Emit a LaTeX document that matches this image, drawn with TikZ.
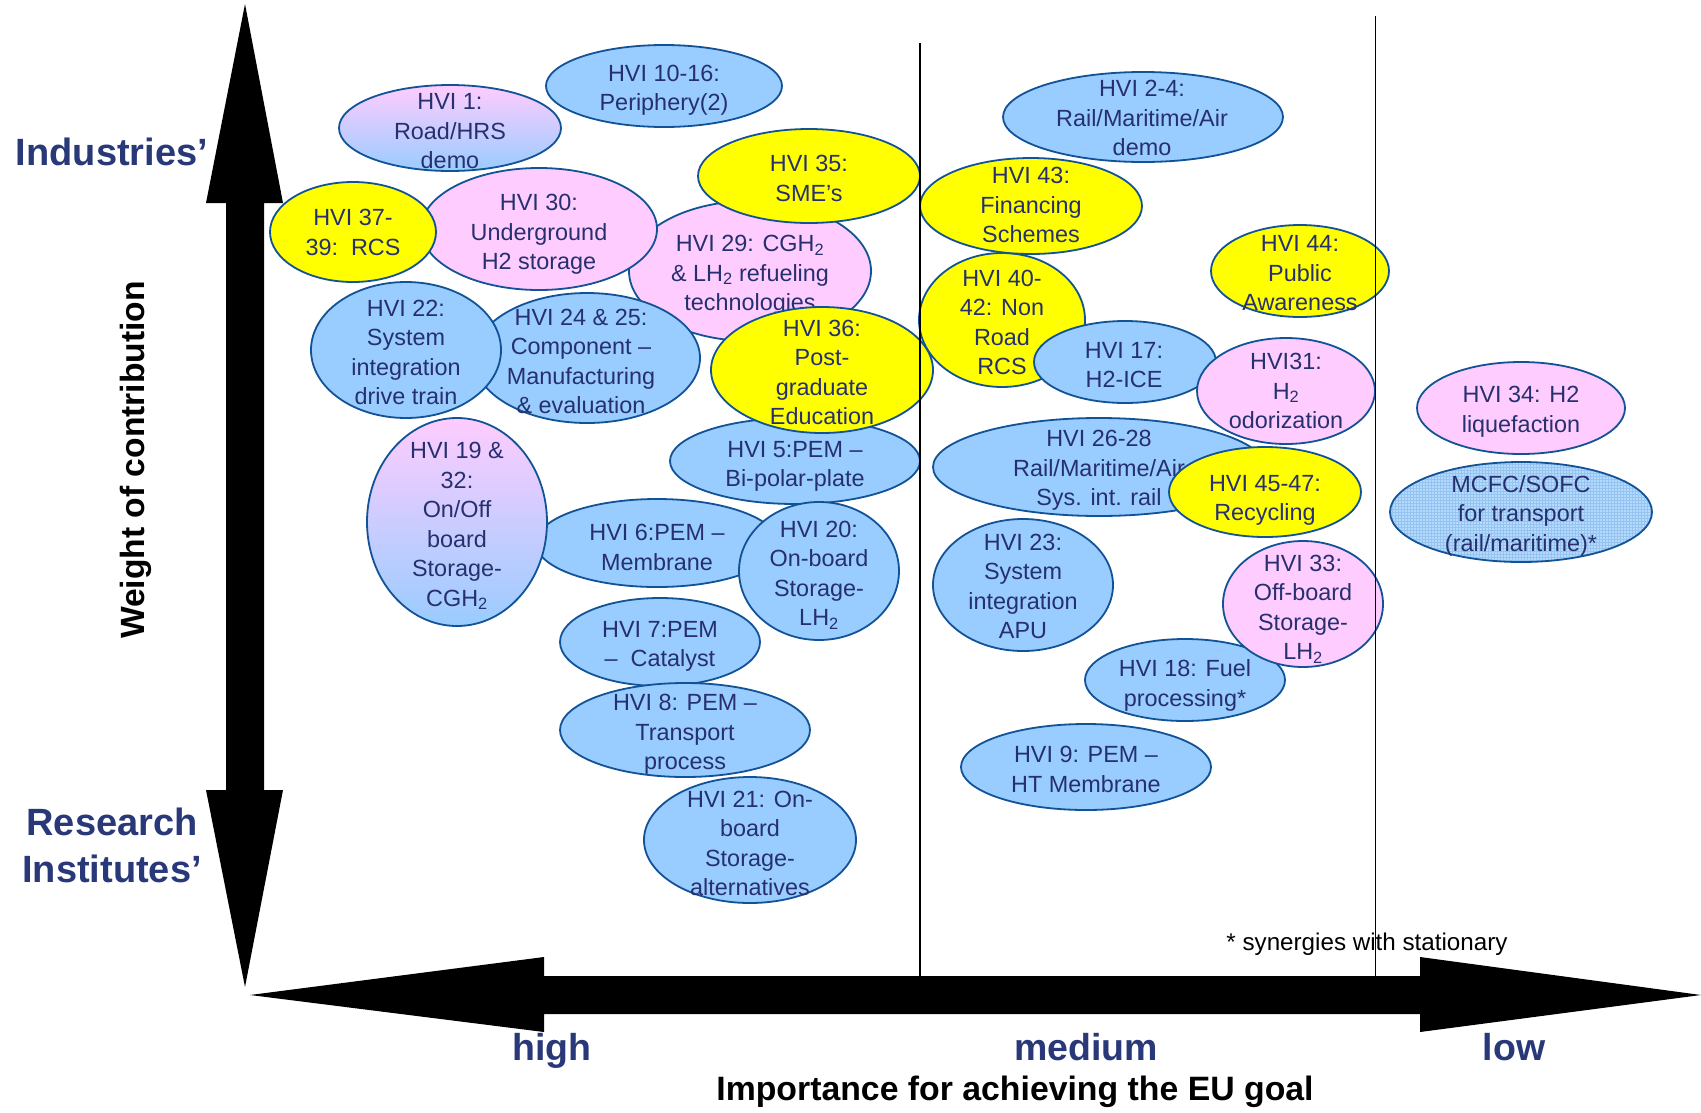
\documentclass[tikz,border=0pt]{standalone}
\usepackage{fontspec}
\setmainfont{Liberation Sans}
\usetikzlibrary{shapes.geometric}
\definecolor{blueF}{RGB}{153,204,255}
\definecolor{pinkF}{RGB}{255,204,255}
\definecolor{yellowF}{RGB}{255,255,0}
\definecolor{outl}{RGB}{18,82,150}
\definecolor{txtc}{RGB}{38,48,110}
\definecolor{navy}{RGB}{41,56,120}
\definecolor{gridF}{RGB}{182,218,252}
\definecolor{gridL}{RGB}{150,196,242}
\tikzset{
  ell/.style={ellipse, draw=outl, line width=1.8pt, inner sep=0pt},
  eB/.style={ell, fill=blueF},
  eP/.style={ell, fill=pinkF},
  eY/.style={ell, fill=yellowF},
  eG/.style={ell, top color=pinkF, bottom color=blueF},
  eM/.style={ell, fill=gridF, path picture={\draw[gridL, line width=0.45pt, step=3pt]
      (path picture bounding box.south west) grid (path picture bounding box.north east);}},
  hvitext/.style={align=center, text=txtc, inner sep=0pt, yshift=-2.5pt,
      font=\fontsize{23.4}{29.5}\selectfont,
      execute at begin node=\strut, execute at end node=\strut},
  axlab/.style={text=navy, inner sep=0pt, anchor=base, font=\bfseries\fontsize{38}{44}\selectfont},
  botlab/.style={text=navy, inner sep=0pt, anchor=base, font=\bfseries\fontsize{37.5}{44}\selectfont},
  divline/.style={black, line width=1.5pt}
}
\newcommand{\hvi}[8]{%
  \node[#2, minimum width=2*#5, minimum height=2*#6] (#1) at (#3,#4) {};
  \node[hvitext] (#1t) at (#7) {#8};
}
\begin{document}
\begin{tikzpicture}[x=1pt,y=-1pt]
\useasboundingbox[fill=white] (0,0) rectangle (1701,1112);
% arrows
\fill[black] (245,4) -- (283,203) -- (264,203) -- (264,790) -- (283,790) -- (245,987)
   -- (206,790) -- (226,790) -- (226,203) -- (206,203) -- cycle;
\fill[black] (250,995) -- (544,957) -- (544,976) -- (1420,976) -- (1420,957) -- (1701,995)
   -- (1420,1032) -- (1420,1014) -- (544,1014) -- (544,1032) -- cycle;
% ellipses
\hvi{e10}{eB}{664}{86}{118}{41}{664,90}{HVI 10-16:\\Periphery(2)}
\hvi{e1}{eG}{450}{128}{111}{43}{450,133}{HVI 1:\\Road/HRS\\demo}
\hvi{e29}{eP}{750}{271}{121}{70}{750,275}{HVI 29: CGH\textsubscript{2}\\\& LH\textsubscript{2} refueling\\technologies}
\hvi{e30}{eP}{539}{229}{118}{61}{539,234}{HVI 30:\\Underground\\H2 storage}
\hvi{e37}{eY}{353}{232}{83}{50}{353,234}{HVI 37-\\39:~~RCS}
\hvi{e35}{eY}{809}{176}{111}{47}{809,180}{HVI 35:\\SME’s}
\hvi{e24}{eB}{587}{358}{113}{65}{581,363}{HVI 24 \& 25:\\Component –\\Manufacturing\\\& evaluation}
\hvi{e22}{eB}{406}{350}{95}{68}{406,354}{HVI 22:\\System\\integration\\drive train}
\hvi{e5}{eB}{795}{461}{125}{43}{795,466}{HVI 5:PEM –\\Bi-polar-plate}
\hvi{e40}{eY}{1002}{320}{83}{67}{1002,324}{HVI 40-\\42: Non\\Road\\RCS}
\hvi{e36}{eY}{822}{370}{111}{63}{822,374}{HVI 36:\\Post-\\graduate\\Education}
\hvi{e6}{eB}{657}{543}{121}{44}{657,549}{HVI 6:PEM –\\Membrane}
\hvi{e19}{eG}{457}{522}{90}{104}{457,526}{HVI 19 \&\\32:\\On/Off\\board\\Storage-\\CGH\textsubscript{2}}
\hvi{e20}{eB}{819}{571}{80}{69}{819,575}{HVI 20:\\On-board\\Storage-\\LH\textsubscript{2}}
\hvi{e7}{eB}{660}{642}{100}{44}{660,646}{HVI 7:PEM\\–~~Catalyst}
\hvi{e8}{eB}{685}{730}{125}{47}{685,734}{HVI 8: PEM –\\Transport\\process}
\hvi{e21}{eB}{750}{840}{106}{63}{750,845}{HVI 21: On-\\board\\Storage-\\alternatives}
\hvi{e2}{eB}{1143}{117}{140}{45}{1142,120}{HVI 2-4:\\Rail/Maritime/Air\\demo}
\hvi{e43}{eY}{1031}{206}{111}{48}{1031,207}{HVI 43:\\Financing\\Schemes}
\hvi{e17}{eB}{1125}{362}{91}{41}{1124,367}{HVI 17:\\H2-ICE}
\hvi{e31}{eP}{1286}{391}{89}{53}{1286,393}{HVI31:\\H\textsubscript{2}\\odorization}
\hvi{e44}{eY}{1300}{271}{89}{46}{1300,275}{HVI 44:\\Public\\Awareness}
\hvi{e26}{eB}{1099}{467}{166}{49}{1099,470}{HVI 26-28\\Rail/Maritime/Air\\Sys. int. rail}
\hvi{e45}{eY}{1265}{492}{96}{45}{1265,500}{HVI 45-47:\\Recycling}
\hvi{e23}{eB}{1023}{585}{90}{66}{1023,588}{HVI 23:\\System\\integration\\APU}
\hvi{e18}{eB}{1185}{680}{100}{41}{1185,685}{HVI 18: Fuel\\processing*}
\hvi{e33}{eP}{1303}{604}{80}{63}{1303,609}{HVI 33:\\Off-board\\Storage-\\LH\textsubscript{2}}
\hvi{e9}{eB}{1086}{767}{125}{43}{1086,771}{HVI 9: PEM –\\HT Membrane}
\hvi{e34}{eP}{1521}{408}{104}{46}{1521,411}{HVI 34: H2\\liquefaction}
\hvi{e46}{eM}{1521}{512}{131}{50}{1521,515}{MCFC/SOFC\\for transport\\(rail/maritime)*}
% dividing lines
\coordinate (l1t) at (920,43);
\coordinate (l1b) at (920,976);
\coordinate (l2t) at (1375.5,16);
\coordinate (l2b) at (1375.5,1014);
\draw[divline] (l1t) -- (l1b);
\draw[divline] (l2t) -- (l2b);
% labels
\node[axlab] (ind) at (112,165) {Industries’};
\node[axlab] (res) at (112,835) {Research};
\node[axlab] (ins) at (112,882) {Institutes’};
\node[rotate=90, inner sep=0pt, font=\bfseries\fontsize{33.6}{38}\selectfont] (wlab) at (136,460) {Weight of contribution};
\node[botlab] (high) at (552,1060) {high};
\node[botlab] (med) at (1086,1060) {medium};
\node[botlab] (low) at (1514,1060) {low};
\node[inner sep=0pt, anchor=base, font=\bfseries\fontsize{33.8}{38}\selectfont] (imp) at (1015,1100) {Importance for achieving the EU goal};
\node[inner sep=0pt, anchor=base, font=\fontsize{24.2}{28}\selectfont] (syn) at (1367,950) {* synergies with stationary};
\end{tikzpicture}
\end{document}
